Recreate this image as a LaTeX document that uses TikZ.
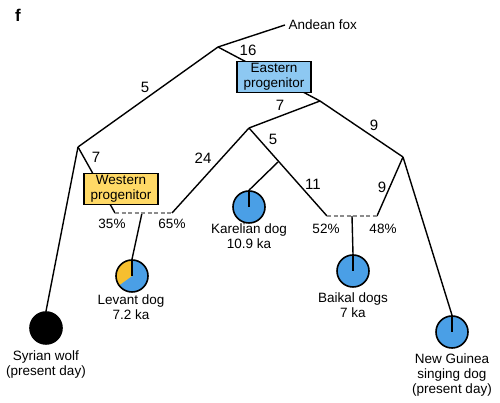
\documentclass[tikz,border=0pt]{standalone}
\usepackage{fontspec}
\setmainfont{Liberation Sans}
\usetikzlibrary{positioning, calc}
\definecolor{dogblue}{HTML}{4A9FE6}
\definecolor{eastfill}{HTML}{8DC8F2}
\definecolor{westfill}{HTML}{FFD966}
\definecolor{levyellow}{HTML}{F6BF2F}
\definecolor{mixgray}{HTML}{8C8C8C}
\tikzset{
    branch/.style={draw=black, line width=1.4pt},
    mixline/.style={draw=mixgray, line width=1.6pt, dash pattern=on 4pt off 2.5pt},
    eastbox/.style={draw=black, fill=eastfill, line width=1.4pt, minimum width=74pt, minimum height=31pt, inner sep=1pt, align=center},
    westbox/.style={draw=black, fill=westfill, line width=1.4pt, minimum width=74pt, minimum height=31pt, inner sep=1pt, align=center},
    sample/.style={circle, draw=black, fill=dogblue, line width=1.6pt, minimum size=32pt, inner sep=0pt},
    wolfdot/.style={sample, fill=black},
    tiptext/.style={align=center},
    brlen/.style={font=\fontsize{15}{15}\selectfont},
}

\begin{document}
\begin{tikzpicture}[
    x=1pt, y=1pt,
    every node/.style={font=\fontsize{13.5}{15}\selectfont},
]
\useasboundingbox (0,0) rectangle (500,403);

\node[font=\bfseries\fontsize{17}{17}\selectfont] (panel) at (18,388) {f};

% junctions of the tree
\coordinate (root) at (218,356);
\coordinate (wnode) at (78,256);
\coordinate (enode) at (320,302);
\coordinate (knode) at (249,275);
\coordinate (kbr) at (278,241);
\coordinate (ngnode) at (403,246);

% admixture bars
\coordinate (wl) at (115,190);
\coordinate (wm) at (142,190);
\coordinate (wr) at (172,190);
\coordinate (el) at (327,187);
\coordinate (em) at (352,187);
\coordinate (er) at (377,187);

% samples
\node[wolfdot] (syr) at (46,75) {};
\node[sample, path picture={
    \fill[levyellow] (path picture bounding box.center) -- ++(90:20pt)
        arc[start angle=90, end angle=216, radius=20pt] -- cycle;
}] (lev) at (132,127) {};
\node[sample] (kar) at (249,196) {};
\node[sample] (bai) at (353,132) {};
\node[sample] (ng) at (452,71) {};

\node[anchor=west] (fox) at (285,378) {Andean fox};

% branches
\draw[branch] (root) -- (fox.west);
\draw[branch] (root) -- (enode);
\draw[branch] (root) -- (wnode);
\draw[branch] (wnode) -- (syr.north);
\draw[branch] (wnode) -- (wl);
\draw[branch] (wr) -- (knode);
\draw[branch] (enode) -- (knode);
\draw[branch] (enode) -- (ngnode);
\draw[branch] (knode) -- (el);
\draw[branch] (kbr) -- (kar.north);
\draw[branch] (ngnode) -- (er);
\draw[branch] (ngnode) -- (ng.north);
\draw[branch] (wm) -- (lev.north);
\draw[branch] (em) -- (bai.north);
\foreach \c in {lev,kar,bai,ng} {
  \draw[branch] (\c.north) -- (\c.center);
}

\draw[mixline] (wl) -- (wr);
\draw[mixline] (el) -- (er);

% progenitors
\node[eastbox] (east) at (274,326) {Eastern\\progenitor};
\node[westbox] (west) at (121,214) {Western\\progenitor};

% branch lengths
\node[brlen] (len16) at (248,353) {16};
\node[brlen] (len5a) at (145,316) {5};
\node[brlen] (len7a) at (96,246) {7};
\node[brlen] (len7b) at (280,298) {7};
\node[brlen] (len9a) at (374,278) {9};
\node[brlen] (len24) at (203,245) {24};
\node[brlen] (len5b) at (273,264) {5};
\node[brlen] (len11) at (313,219) {11};
\node[brlen] (len9b) at (382,216) {9};

% admixture proportions
\node (p35) at (112,179) {35\%};
\node (p65) at (172,179) {65\%};
\node (p52) at (326,174) {52\%};
\node (p48) at (383,174) {48\%};

% sample names
\node[tiptext] (syrtxt) at (46,38) {Syrian wolf\\(present day)};
\node[tiptext] (levtxt) at (131,96) {Levant dog\\7.2 ka};
\node[tiptext] (kartxt) at (249,167) {Karelian dog\\10.9 ka};
\node[tiptext] (baitxt) at (353,98) {Baikal dogs\\7 ka};
\node[tiptext] (ngtxt) at (452,28) {New Guinea\\singing dog\\(present day)};

\end{tikzpicture}
\end{document}
